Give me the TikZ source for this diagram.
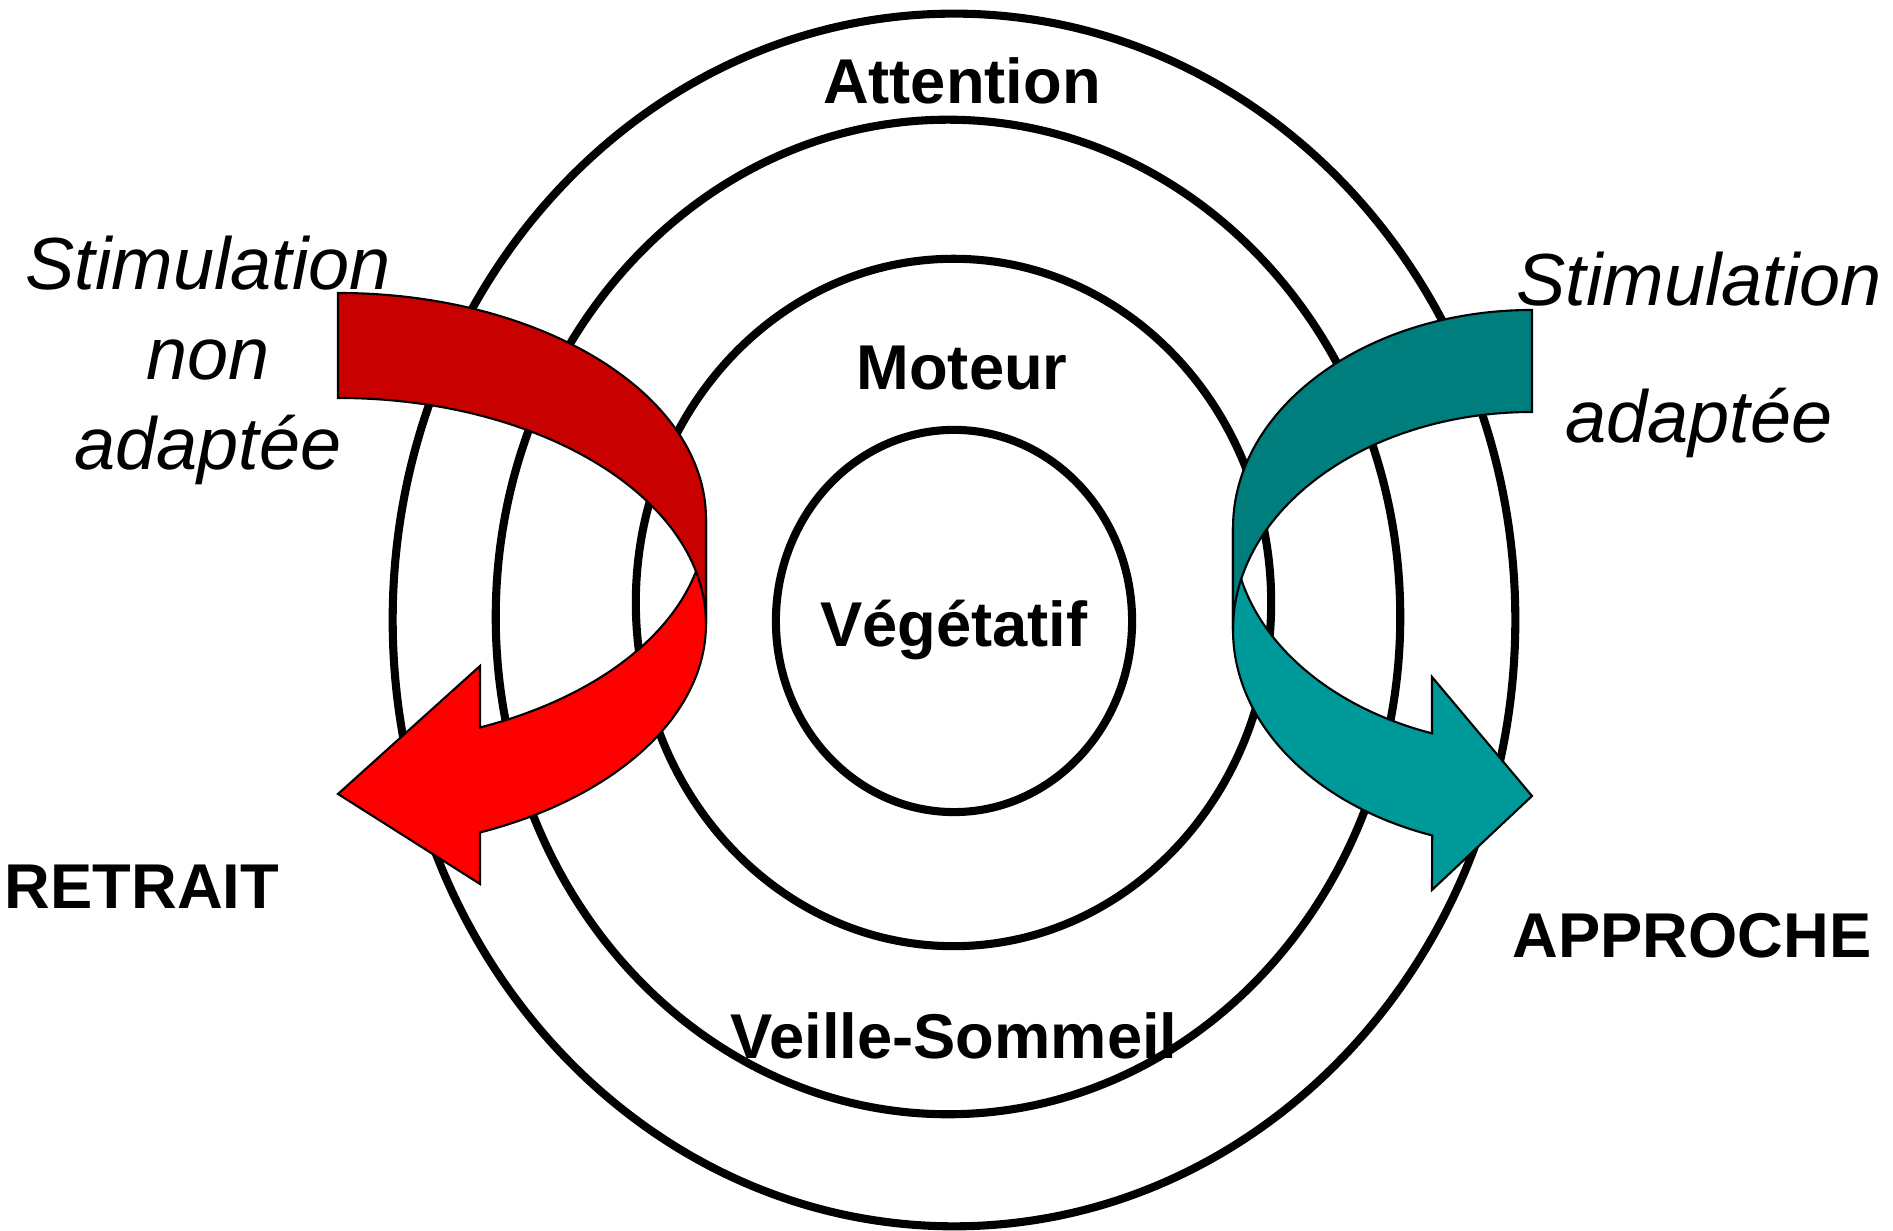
\documentclass[tikz,border=0pt]{standalone}
\usepackage{fontspec}
\setmainfont{Liberation Sans}
\usetikzlibrary{shapes.geometric}
\definecolor{retclr}  {RGB}{255,0,0}
\definecolor{retdkclr}{RGB}{200,0,0}
\definecolor{appclr}  {RGB}{0,153,153}
\definecolor{appdkclr}{RGB}{0,125,125}

\begin{document}
\begin{tikzpicture}[
    x=0.01cm, y=0.01cm,
    ring/.style   ={draw, ellipse, line width=2.3pt, inner sep=0pt},
    lbl/.style    ={font=\fontsize{18}{21.6}\selectfont\bfseries, inner sep=0pt},
    stim/.style   ={font=\fontsize{21}{25.6}\selectfont\itshape, align=center,
                    inner sep=0pt},
    ribbon/.style ={draw=black, line width=0.6pt, line join=miter},
]
\useasboundingbox (0,0) rectangle (1893,1231);

% =============== Nested rings ===============
\node[ring, minimum width=11.22cm, minimum height=12.12cm] (ringOut) at (954,611)   {};
\node[ring, minimum width=9.04cm,  minimum height=9.94cm]  (ringMid) at (948,614)   {};
\node[ring, minimum width=6.35cm,  minimum height=6.87cm]  (ringIn)  at (953.5,628.5) {};
\node[ring, minimum width=3.56cm,  minimum height=3.82cm]  (core)    at (954,610)   {};

% =============== Ring labels ===============
\node[lbl] (attn) at (962,1150) {Attention};
\node[lbl] (mot)  at (962,863)  {Moteur};
\node[lbl] (veg)  at (954,601)  {Végétatif};
\node[lbl] (veil) at (954,195)  {Veille-Sommeil};

% =============== Withdrawal ribbon (red) ===============
\fill[retclr, ribbon] (706,607)
  arc[start angle=0, end angle=-67.3, x radius=368, y radius=226]
  -- (480,347) -- (338,437) -- (480,565) -- (480,503.5)
  arc[start angle=-67.3, end angle=0, x radius=368, y radius=226]
  -- cycle;
\fill[retdkclr, ribbon] (338,938)
  arc[start angle=90, end angle=0, x radius=368, y radius=226]
  -- (706,607)
  arc[start angle=0, end angle=90, x radius=368, y radius=226]
  -- cycle;

% =============== Approach ribbon (teal) ===============
\fill[appclr, ribbon] (1233,601)
  arc[start angle=180, end angle=250.5, x radius=299, y radius=218]
  -- (1432,341) -- (1532,435) -- (1432,554) -- (1432,497.6)
  arc[start angle=250.5, end angle=180, x radius=299, y radius=218]
  -- cycle;
\fill[appdkclr, ribbon] (1532,921)
  arc[start angle=90, end angle=180, x radius=299, y radius=218]
  -- (1233,601)
  arc[start angle=180, end angle=90, x radius=299, y radius=218]
  -- cycle;

% =============== Side labels ===============
\node[stim] (stimNo) at (208,871) {Stimulation\\ non\\ adaptée};
\node[stim] (stimOk) at (1699,876.5) {Stimulation\\[4.7mm] adaptée};
\node[lbl, anchor=west] (retr) at (4,344)    {RETRAIT};
\node[lbl, anchor=west] (appr) at (1512,295) {APPROCHE};

\end{tikzpicture}
\end{document}
